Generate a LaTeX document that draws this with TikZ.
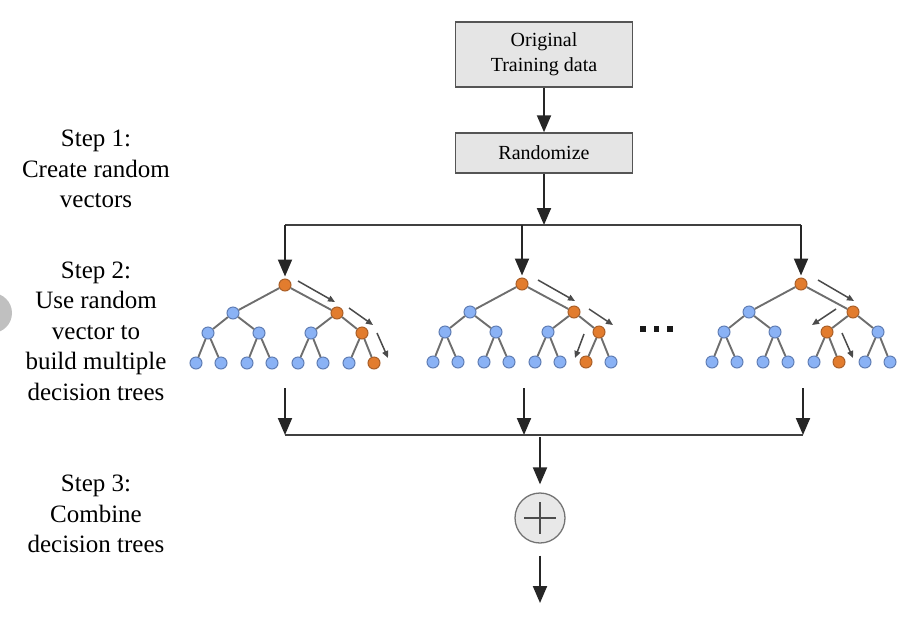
\documentclass[tikz,border=0pt]{standalone}
\usepackage{fontspec}
\setmainfont{Liberation Serif}
\usetikzlibrary{arrows.meta,calc}
\definecolor{boxfill}{RGB}{229,229,229}
\definecolor{boxdraw}{RGB}{85,85,85}
\definecolor{blueF}{RGB}{138,178,245}
\definecolor{blueD}{RGB}{95,125,180}
\definecolor{orangeF}{RGB}{226,124,46}
\definecolor{orangeD}{RGB}{170,95,40}
\definecolor{edgec}{RGB}{110,110,110}
\definecolor{patharr}{RGB}{75,75,75}
\definecolor{sidegray}{RGB}{192,192,192}
\tikzset{
  procbox/.style={draw=boxdraw, line width=1.5pt, fill=boxfill, minimum width=177pt, align=center, font=\fontsize{20}{25}\selectfont},
  steplabel/.style={align=center, font=\fontsize{25}{30.5}\selectfont},
  flow/.style={line width=2pt, draw=black!85, -{Triangle[width=14pt,length=17pt]}},
  plainline/.style={line width=2pt, draw=black!75},
  tnode/.style={circle, minimum size=12pt, inner sep=0pt, line width=1pt, draw=blueD, fill=blueF},
  onode/.style={draw=orangeD, fill=orangeF},
  tedge/.style={line width=1.9pt, draw=edgec},
  parr/.style={line width=1.5pt, draw=patharr, -{Triangle[width=6pt,length=7pt]}},
  p0/.style={}, pL/.style={}, pR/.style={}, pLL/.style={}, pLR/.style={}, pRL/.style={}, pRR/.style={},
  pLLL/.style={}, pLLR/.style={}, pLRL/.style={}, pLRR/.style={}, pRLL/.style={}, pRLR/.style={}, pRRL/.style={}, pRRR/.style={},
}
\newcommand\drawdtree[3]{%
  \node[tnode,p0] (#1) at (#2,#3) {};
  \node[tnode,pL] (#1L) at (#2-52,#3+28) {};
  \node[tnode,pR] (#1R) at (#2+52,#3+28) {};
  \node[tnode,pLL] (#1LL) at (#2-77,#3+48) {};
  \node[tnode,pLR] (#1LR) at (#2-26,#3+48) {};
  \node[tnode,pRL] (#1RL) at (#2+26,#3+48) {};
  \node[tnode,pRR] (#1RR) at (#2+77,#3+48) {};
  \node[tnode,pLLL] (#1LLL) at (#2-89,#3+78) {};
  \node[tnode,pLLR] (#1LLR) at (#2-64,#3+78) {};
  \node[tnode,pLRL] (#1LRL) at (#2-38,#3+78) {};
  \node[tnode,pLRR] (#1LRR) at (#2-13,#3+78) {};
  \node[tnode,pRLL] (#1RLL) at (#2+13,#3+78) {};
  \node[tnode,pRLR] (#1RLR) at (#2+38,#3+78) {};
  \node[tnode,pRRL] (#1RRL) at (#2+64,#3+78) {};
  \node[tnode,pRRR] (#1RRR) at (#2+89,#3+78) {};
  \draw[tedge] (#1)--(#1L) (#1)--(#1R)
    (#1L)--(#1LL) (#1L)--(#1LR) (#1R)--(#1RL) (#1R)--(#1RR)
    (#1LL)--(#1LLL) (#1LL)--(#1LLR) (#1LR)--(#1LRL) (#1LR)--(#1LRR)
    (#1RL)--(#1RLL) (#1RL)--(#1RLR) (#1RR)--(#1RRL) (#1RR)--(#1RRR);
}
\begin{document}
\begin{tikzpicture}[x=1pt,y=-1pt]
\useasboundingbox (0,0) rectangle (907,622);
% side artifact
\fill[sidegray] (-8,313) circle (20);

% left labels
\node[steplabel] (s1) at (96,169) {Step 1:\\Create random\\vectors};
\node[steplabel] (s2) at (96,331) {Step 2:\\Use random\\vector to\\build multiple\\decision trees};
\node[steplabel] (s3) at (96,514) {Step 3:\\Combine\\decision trees};

% top boxes
\node[procbox, minimum height=65pt] (orig) at (544,54.5) {Original\\Training data};
\node[procbox, minimum height=40pt] (rand) at (544,153) {Randomize};
\draw[flow] (orig.south) -- (rand.north);

% distribution line
\coordinate (hc) at (544,225);
\coordinate (hl) at (285,225);
\coordinate (hm) at (522,225);
\coordinate (hr) at (801,225);
\draw[flow] (rand.south) -- (hc);
\draw[plainline] (hl) -- (hr);

% trees
\begin{scope}[p0/.style={onode}, pR/.style={onode}, pRR/.style={onode}, pRRR/.style={onode}]
  \drawdtree{ta}{285}{285}
\end{scope}
\begin{scope}[p0/.style={onode}, pR/.style={onode}, pRR/.style={onode}, pRRL/.style={onode}]
  \drawdtree{tb}{522}{284}
\end{scope}
\begin{scope}[p0/.style={onode}, pR/.style={onode}, pRL/.style={onode}, pRLR/.style={onode}]
  \drawdtree{tc}{801}{284}
\end{scope}
\draw[flow, shorten >=2pt] (hl) -- (ta);
\draw[flow, shorten >=2pt] (hm) -- (tb);
\draw[flow, shorten >=2pt] (hr) -- (tc);

% path arrows
\begin{scope}[shift={(ta)}]
  \draw[parr] (13,-4) -- (50,17);
  \draw[parr] (64,23) -- (88,40);
  \draw[parr] (92,48) -- (103,73);
\end{scope}
\begin{scope}[shift={(tb)}]
  \draw[parr] (16,-4) -- (53,17);
  \draw[parr] (67,25) -- (91,41);
  \draw[parr] (62,50) -- (53,74);
\end{scope}
\begin{scope}[shift={(tc)}]
  \draw[parr] (17,-4) -- (53,17);
  \draw[parr] (35,25) -- (11,41);
  \draw[parr] (41,49) -- (52,74);
\end{scope}

% ellipsis dots
\foreach \i/\xx in {1/643,2/656.5,3/670}
  \node[fill=black!90, minimum size=5.5pt, inner sep=0pt] (dot\i) at (\xx,329) {};

% collecting arrows
\coordinate (ba) at (285,388);
\coordinate (bb) at (524,388);
\coordinate (bc) at (803,388);
\coordinate (la) at (285,435);
\coordinate (lb) at (524,435);
\coordinate (lc) at (803,435);
\coordinate (lm) at (540,435);
\draw[flow] (ba) -- (la);
\draw[flow] (bb) -- (lb);
\draw[flow] (bc) -- (lc);
\draw[plainline] (la) -- (lc);

% combine
\node[circle, draw=black!55, line width=1.3pt, fill=black!9, minimum size=50pt, inner sep=0pt] (comb) at (540,518) {};
\draw[line width=1.3pt, draw=black!70] ($(comb.center)+(-16,0)$) -- ($(comb.center)+(16,0)$)
  ($(comb.center)+(0,-16)$) -- ($(comb.center)+(0,16)$);
\draw[flow, shorten <=2pt, shorten >=8pt] (lm) -- (comb.north);
\coordinate (out) at (540,603);
\draw[flow, shorten <=12pt] (comb.south) -- (out);
\end{tikzpicture}
\end{document}
